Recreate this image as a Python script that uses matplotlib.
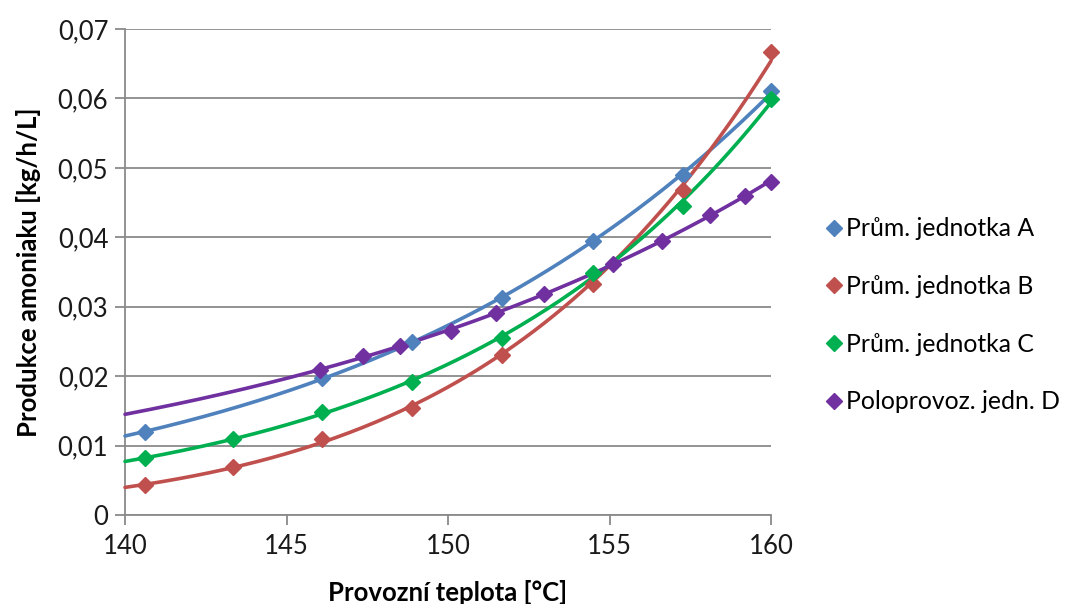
import numpy as np
import matplotlib
matplotlib.use("Agg")
import matplotlib.pyplot as plt
from matplotlib.lines import Line2D
from matplotlib.ticker import FuncFormatter, MultipleLocator

plt.rcParams['font.family'] = ['Lato', 'DejaVu Sans']

# Measured ammonia production vs. operating temperature
temp_A = [140.62, 146.10, 148.88, 151.67, 154.50, 157.27, 160.00]
prod_A = [0.0120, 0.0197, 0.0249, 0.0313, 0.0394, 0.0490, 0.0610]

temp_B = [140.62, 143.34, 146.10, 148.88, 151.67, 154.50, 157.27, 160.00]
prod_B = [0.0043, 0.0069, 0.0110, 0.0154, 0.0230, 0.0333, 0.0468, 0.0667]

temp_C = [140.62, 143.34, 146.10, 148.88, 151.67, 154.50, 157.27, 160.00]
prod_C = [0.0082, 0.0109, 0.0148, 0.0192, 0.0255, 0.0349, 0.0445, 0.0599]

temp_D = [146.05, 147.37, 148.52, 150.10, 151.50, 152.97, 155.10, 156.63,
          158.10, 159.20, 160.00]
prod_D = [0.0209, 0.0229, 0.0244, 0.0265, 0.0291, 0.0318, 0.0362, 0.0395,
          0.0432, 0.0460, 0.0480]

labels = ["Prům. jednotka A", "Prům. jednotka B",
          "Prům. jednotka C", "Poloprovoz. jedn. D"]
colors = ["#4F81BD", "#C0504D", "#00B050", "#7030A0"]

series = [(temp_A, prod_A), (temp_B, prod_B), (temp_C, prod_C), (temp_D, prod_D)]

fig = plt.figure(figsize=(10.74, 6.04), dpi=100)
ax = fig.add_axes([0.1164, 0.1474, 0.6015, 0.8046])

grid_c = "#8A8A8A"
ax.set_xlim(140, 160)
ax.set_ylim(0, 0.07)
ax.xaxis.set_major_locator(MultipleLocator(5))
ax.yaxis.set_major_locator(MultipleLocator(0.01))
ax.yaxis.set_major_formatter(FuncFormatter(
    lambda v, p: "0" if abs(v) < 1e-9 else f"{v:.2f}".replace(".", ",")))
ax.grid(axis="y", color=grid_c, linewidth=1.3)
ax.set_axisbelow(True)
for s in ["top", "right"]:
    ax.spines[s].set_visible(False)
for s in ["left", "bottom"]:
    ax.spines[s].set_color(grid_c)
    ax.spines[s].set_linewidth(1.3)
ax.tick_params(axis="both", colors=grid_c, width=1.3, length=7,
               labelcolor="#1a1a1a", labelsize=18.5)
ax.tick_params(axis="x", pad=7)
ax.tick_params(axis="y", pad=5)

# Trend lines (quadratic in log space) through each series over the full range
xs = np.linspace(140, 160, 200)
for (tx, py), c in zip(series, colors):
    coef = np.polyfit(np.array(tx), np.log(np.array(py)), 2)
    ax.plot(xs, np.exp(np.polyval(coef, xs)), color=c, linewidth=2.6,
            solid_capstyle="round", zorder=3, clip_on=False)
    ax.plot(tx, py, linestyle="none", marker="D", markersize=8.5,
            color=c, zorder=4, clip_on=False)

ax.set_xlabel("Provozní teplota [°C]", fontsize=18.5, fontweight="bold",
              labelpad=15)
ax.set_ylabel("Produkce amoniaku [kg/h/L]", fontsize=18.5, fontweight="bold",
              labelpad=12)

handles = [Line2D([], [], linestyle="none", marker="D", markersize=8,
                  color=c) for c in colors]
fig.legend(handles, labels, loc="center left", bbox_to_anchor=(0.745, 0.478),
           frameon=False, fontsize=17.8, handletextpad=0.05, labelspacing=1.4,
           handlelength=0.9)

fig.savefig("out.png", dpi=100, facecolor="white")
